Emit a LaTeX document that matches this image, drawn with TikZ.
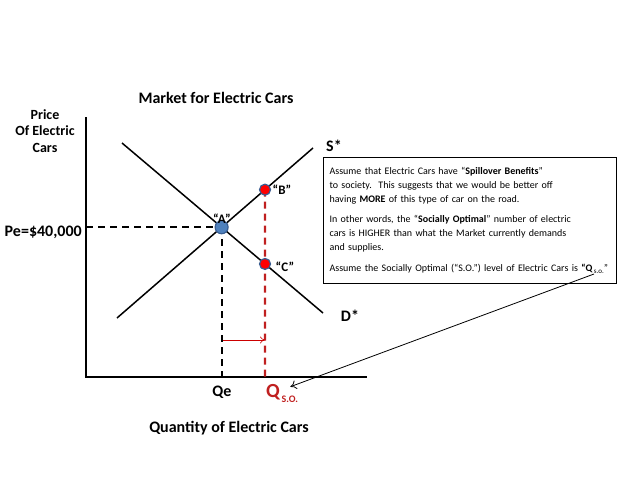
\documentclass[tikz,border=0pt]{standalone}
\usepackage{fontspec}
\setmainfont{Carlito}
\usetikzlibrary{arrows.meta}
\definecolor{dotblue}{RGB}{79,129,189}
\definecolor{dotedge}{RGB}{56,93,146}
\definecolor{sored}{RGB}{192,32,32}
\tikzset{
  curve/.style={line width=1.5pt},
  guide/.style={dash pattern=on 7pt off 5pt,line width=2.2pt},
  lbl/.style={font=\bfseries\fontsize{16}{18}\selectfont},
  ptlbl/.style={font=\bfseries\fontsize{13}{15}\selectfont},
  dot/.style={circle,inner sep=0pt,minimum size=11pt,line width=1.2pt}
}
\begin{document}
\begin{tikzpicture}[x=1pt,y=-1pt]
  \useasboundingbox (0,0) rectangle (638,479);
  % axes
  \coordinate (ytop) at (86,117);
  \coordinate (origin) at (86,377);
  \coordinate (xend) at (367,377);
  \draw[line width=1.8pt] (ytop) -- (origin) -- (xend);
  % supply and demand
  \coordinate (s0) at (117,318);
  \coordinate (s1) at (313,148);
  \coordinate (d0) at (122,143);
  \coordinate (d1) at (323,313);
  \draw[curve] (s0) -- (s1);
  \draw[curve] (d0) -- (d1);
  \coordinate (A) at (intersection of s0--s1 and d0--d1);
  \coordinate (qso) at (265,377);
  \coordinate (qtop) at (265,120);
  \coordinate (B) at (intersection of s0--s1 and qso--qtop);
  \coordinate (C) at (intersection of d0--d1 and qso--qtop);
  % equilibrium and socially optimal quantity
  \draw[guide] (A -| origin) -- (A);
  \draw[guide] (A) -- (A |- origin);
  \draw[guide,sored] (B) -- (qso);
  \coordinate (shift0) at (223,340);
  \coordinate (shift1) at (265,340);
  \draw[-{To[length=5pt,width=7pt]},red!80!black,line width=0.6pt] (shift0) -- (shift1);
  \node[dot,minimum size=13pt,fill=dotblue,draw=dotedge] (ptA) at (A) {};
  \node[dot,fill=red,draw=dotedge] (ptB) at (B) {};
  \node[dot,fill=red,draw=dotedge] (ptC) at (C) {};
  \node[ptlbl] (labA) at (222,219) {“A”};
  \node[ptlbl] (labB) at (282,190) {“B”};
  \node[ptlbl] (labC) at (285,267) {“C”};
  % labels
  \node[lbl] (title) at (216,98) {Market for Electric Cars};
  \node[lbl] (xlabel) at (229,428) {Quantity of Electric Cars};
  \node[font=\bfseries\fontsize{14}{16.5}\selectfont,align=center] (ylabel) at (45,131) {Price\\Of Electric\\Cars};
  \node[lbl,anchor=east,inner sep=0pt] (pe) at (82,232) {Pe=\$40,000};
  \node[lbl] (qe) at (222,392) {Qe};
  \node[anchor=west,inner sep=0pt,text=sored,font=\bfseries] (qsolab) at (266,393) {{\fontsize{20}{22}\selectfont Q}\,{\fontsize{10}{11}\selectfont\raisebox{-5pt}{S.O.}}};
  \node[lbl] (slab) at (334,146) {S*};
  \node[lbl] (dlab) at (350,316) {D*};
  % explanation box
  \node[draw,line width=1.2pt,anchor=north west,text width=281pt,inner xsep=6pt,
        minimum width=293pt,minimum height=126pt,align=left,
        font=\fontsize{10}{14}\selectfont] (note) at (323,157) {%
    Assume that Electric Cars have “\textbf{Spillover Benefits}”\\
    to society.\ \ This suggests that we would be better off\\
    having \textbf{MORE} of this type of car on the road.\\[6pt]
    In other words, the “\textbf{Socially Optimal}” number of electric\\
    cars is HIGHER than what the Market currently demands\\
    and supplies.\\[7pt]
    Assume the Socially Optimal (“S.O.”) level of Electric Cars is \textbf{“Q}{\fontsize{7}{8}\selectfont\raisebox{-1.5pt}{\,s.o.}}”};
  \coordinate (notetip) at (594,274);
  \draw[-{To[length=6pt,width=9pt]},line width=0.8pt] (notetip) -- ([xshift=-8pt,yshift=-3pt]qsolab.north east);
\end{tikzpicture}
\end{document}
